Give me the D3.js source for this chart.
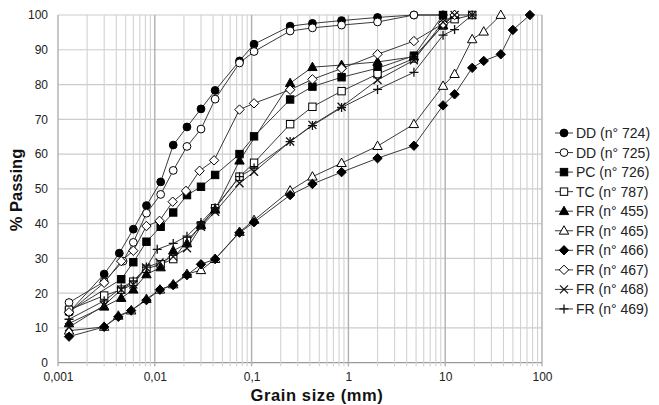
<!DOCTYPE html>
<html><head><meta charset="utf-8">
<script src="https://cdn.jsdelivr.net/npm/d3@7"></script>
<style>body{margin:0;background:#fff;font-family:"Liberation Sans",Arial,sans-serif;}</style>
</head><body><svg id="c" width="659" height="405"></svg>
<script>
// ---- data ----
const seriesNames = ["DD (n° 724)","DD (n° 725)","PC (n° 726)","TC (n° 787)","FR (n° 455)","FR (n° 465)","FR (n° 466)","FR (n° 467)","FR (n° 468)","FR (n° 469)"];
const xTickLabels = ["0,001","0,01","0,1","1","10","100"];
const yTicks = [0,10,20,30,40,50,60,70,80,90,100];

const dd724Size = [0.0013,0.003,0.0043,0.006,0.0082,0.0115,0.0155,0.0215,0.03,0.042,0.075,0.106,0.25,0.425,0.85,2,4.75,9.5];
const dd724Pass = [14.5,25.5,31.5,38.4,45.2,52,62.6,67.8,73,78.3,86.8,91.6,96.8,97.6,98.4,99.3,100,100];
const dd725Size = [0.0013,0.003,0.0047,0.006,0.0082,0.0115,0.0155,0.0215,0.03,0.042,0.075,0.106,0.25,0.425,0.85,2,4.75,9.5];
const dd725Pass = [17.3,23.3,29.2,34.6,43,48.4,55.3,62.2,67.2,75.8,86.2,89.5,95.4,96.3,97.1,98,100,100];
const pc726Size = [0.0013,0.0045,0.006,0.0082,0.0115,0.0155,0.0215,0.03,0.042,0.075,0.106,0.25,0.425,0.85,2,4.75,9.5];
const pc726Pass = [14.8,24,28.9,34.8,39.1,43.2,48.2,50.6,54,60,65.1,75.7,79.4,82.1,84.7,88.3,100];
const tc787Size = [0.0013,0.003,0.0045,0.006,0.0082,0.0115,0.0155,0.0215,0.03,0.042,0.075,0.106,0.25,0.425,0.85,2,4.75,9.5,12.5,19];
const tc787Pass = [15.2,19.3,21,23.3,27,28.3,29.8,35,39.5,44.4,53.5,57.5,68.6,73.6,78.1,83,87.5,97,98.8,100];
const fr455Size = [0.0013,0.003,0.0045,0.006,0.0082,0.0115,0.0155,0.0215,0.03,0.042,0.075,0.25,0.425,0.85,2,4.75,9.5,12.5];
const fr455Pass = [11.3,16.1,18.6,21,25.4,27.4,32.2,34.3,39.6,44,58.1,80.4,85,85.6,86.5,88,97,100];
const fr465Size = [0.0013,0.003,0.0042,0.0057,0.0082,0.0113,0.0155,0.0215,0.03,0.042,0.075,0.106,0.25,0.425,0.85,2,4.75,9.5,12.5,19,25,37.5];
const fr465Pass = [9.2,10.3,13.5,15,18.3,21,22.5,25.5,26.6,29.8,37.6,41,49.5,53.5,57.4,62.3,68.6,79.6,83,93,95.2,100];
const fr466Size = [0.0013,0.003,0.0042,0.0057,0.0082,0.0113,0.0155,0.0215,0.03,0.042,0.075,0.106,0.25,0.425,0.85,2,4.75,9.5,12.5,19,25,37.5,50,75];
const fr466Pass = [7.5,10.3,13.2,15,18,21,22.3,25.2,28.3,29.8,37.4,40.4,48.2,51.4,54.8,58.8,62.4,74,77.2,84.8,86.8,88.7,95.7,100];
const fr467Size = [0.0013,0.003,0.0045,0.006,0.0082,0.0112,0.0153,0.021,0.029,0.041,0.075,0.106,0.25,0.425,0.85,2,4.75,9.5,12.5];
const fr467Pass = [14.5,23,29.2,32.2,39.3,40.8,46.3,49.4,55.2,58.2,72.8,74.6,78.5,81.5,84.6,88.7,92.5,97.5,100];
const fr468Size = [0.0013,0.003,0.0045,0.006,0.0081,0.0112,0.0155,0.0215,0.03,0.042,0.075,0.106,0.25,0.425,0.85,2,4.75,9.5,12.5,19];
const fr468Pass = [10.2,16.5,21,22.5,27.4,28.8,30.5,32.9,39.1,43.4,51.6,54.9,63.6,68.4,73.6,81.3,87,98,100,100];
const fr469Size = [0.0013,0.003,0.0045,0.006,0.0082,0.0106,0.0155,0.0215,0.03,0.042,0.075,0.106,0.25,0.425,0.85,2,4.75,9.5,12.5,19];
const fr469Pass = [12.5,17.8,21.5,23.5,27.5,32.6,34.3,36.4,40.3,44.6,53.5,56,63.6,68.2,73.4,78.6,83.5,94.2,95.8,100];

const seriesSizes = [dd724Size,dd725Size,pc726Size,tc787Size,fr455Size,fr465Size,fr466Size,fr467Size,fr468Size,fr469Size];
const seriesPass  = [dd724Pass,dd725Pass,pc726Pass,tc787Pass,fr455Pass,fr465Pass,fr466Pass,fr467Pass,fr468Pass,fr469Pass];
const markerKind = ["circle","circle","square","square","triangle","triangle","diamond","diamond","x","plus"];
const markerFill = [true,false,true,false,true,false,true,false,false,false];

// ---- layout ----
const svg = d3.select("#c");
const L=58, R=542, T=15, B=362.7;
const x = d3.scaleLog().domain([0.001,100]).range([L,R]);
const y = d3.scaleLinear().domain([0,100]).range([B,T]);
const FONT = "Liberation Sans, Arial, sans-serif";

// grid
const vLines=[];
[0.001,0.01,0.1,1,10].forEach(d=>{for(let k=1;k<=9;k++) vLines.push({v:k*d,major:k===1});});
vLines.push({v:100,major:true});
const g = svg.append("g");
g.selectAll("line.h").data(yTicks).enter().append("line")
 .attr("x1",L).attr("x2",R).attr("y1",d=>y(d)).attr("y2",d=>y(d))
 .attr("stroke",d=>d===0?"#9a9a9a":"#cccccc").attr("stroke-width",1.2);
g.selectAll("line.v").data(vLines).enter().append("line")
 .attr("x1",d=>x(d.v)).attr("x2",d=>x(d.v)).attr("y1",T).attr("y2",B+3.5)
 .attr("stroke",d=>d.major?"#b0b0b0":"#d2d2d2").attr("stroke-width",d=>d.major?1.4:1.1);

// axes labels
const xAxis = d3.axisBottom(x).tickValues([0.001,0.01,0.1,1,10,100]).tickSize(0).tickPadding(10)
  .tickFormat((d,i)=>xTickLabels[i]);
const ax = svg.append("g").attr("transform",`translate(0,${B})`).call(xAxis);
ax.select(".domain").remove();
ax.selectAll("text").attr("font-size",12).attr("fill","#222").attr("font-family",FONT);
const yAxis = d3.axisLeft(y).tickValues(yTicks).tickSize(0).tickPadding(10);
const ay = svg.append("g").attr("transform",`translate(${L},0)`).call(yAxis);
ay.select(".domain").remove();
ay.selectAll("text").attr("font-size",12).attr("fill","#222").attr("font-family",FONT);

svg.append("text").attr("x",317).attr("y",401).attr("text-anchor","middle").attr("font-family",FONT)
 .attr("font-weight","bold").attr("font-size",16.5).attr("letter-spacing",0.6).attr("fill","#111").text("Grain size (mm)");
svg.append("text").attr("transform",`translate(22,190) rotate(-90)`).attr("text-anchor","middle").attr("font-family",FONT)
 .attr("font-weight","bold").attr("font-size",16.5).attr("fill","#111").text("% Passing");

// markers
function drawMarker(sel,kind,fill){
  let p;
  if(kind==="circle") p=sel.append("circle").attr("r",3.9);
  else if(kind==="square") p=sel.append("rect").attr("x",-3.7).attr("y",-3.7).attr("width",7.4).attr("height",7.4);
  else if(kind==="triangle") p=sel.append("path").attr("d","M0,-5L4.7,3.4L-4.7,3.4Z");
  else if(kind==="diamond") p=sel.append("path").attr("d","M0,-4.7L4.7,0L0,4.7L-4.7,0Z");
  else if(kind==="x") p=sel.append("path").attr("d","M-4,-4L4,4M-4,4L4,-4");
  else p=sel.append("path").attr("d","M-4.5,0L4.5,0M0,-4.5L0,4.5");
  if(kind==="x"||kind==="plus") p.attr("fill","none").attr("stroke","#111").attr("stroke-width",1.3);
  else p.attr("fill",fill?"#000":"#fff").attr("stroke","#000").attr("stroke-width",1);
}
const line = d3.line().x(d=>x(d[0])).y(d=>y(d[1]));
const plot = svg.append("g");
seriesNames.forEach((n,i)=>{
  const pts = seriesSizes[i].map((s,j)=>[s,seriesPass[i][j]]);
  plot.append("path").datum(pts).attr("d",line).attr("fill","none").attr("stroke","#3a3a3a").attr("stroke-width",1);
});
seriesNames.forEach((n,i)=>{
  const pts = seriesSizes[i].map((s,j)=>[s,seriesPass[i][j]]);
  pts.forEach(p=>{
    const m=plot.append("g").attr("transform",`translate(${x(p[0])},${y(p[1])})`);
    drawMarker(m,markerKind[i],markerFill[i]);
  });
});

// legend
const lg = svg.append("g");
seriesNames.forEach((n,i)=>{
  const yy = 133 + i*19.55;
  const row = lg.append("g").attr("transform",`translate(564,${yy})`);
  row.append("line").attr("x1",-9).attr("x2",9).attr("y1",0).attr("y2",0).attr("stroke","#3a3a3a").attr("stroke-width",1);
  drawMarker(row,markerKind[i],markerFill[i]);
  row.append("text").attr("x",12).attr("y",5).attr("font-size",14).attr("font-family",FONT).attr("fill","#222").text(n);
});
</script></body></html>
